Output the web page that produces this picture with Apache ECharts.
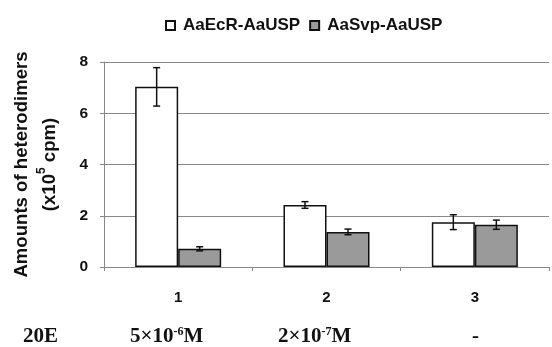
<!DOCTYPE html>
<html>
<head>
<meta charset="utf-8">
<script src="https://cdn.jsdelivr.net/npm/echarts@6/dist/echarts.min.js"></script>
<style>html,body{margin:0;padding:0;background:#fff}#c{width:552px;height:347px}</style>
</head>
<body>
<div id="c"></div>
<script>
const categories = ['1', '2', '3'];
const seriesNames = ['AaEcR-AaUSP', 'AaSvp-AaUSP'];
const ecrValues = [7.03, 2.42, 1.75];
const ecrErrors = [0.75, 0.13, 0.29];
const svpValues = [0.71, 1.37, 1.65];
const svpErrors = [0.08, 0.11, 0.18];
const yTicks = { min: 0, max: 8, interval: 2 };
const rowTitle = '20E';
const conditions = ['5×10{s|-6}M', '2×10{s|-7}M', '-'];

const BAR_FRAC = 0.29;
const sans = 'Liberation Sans';
const serif = 'Liberation Serif';

const errData = [];
ecrValues.forEach((v, i) => errData.push([i, v, ecrErrors[i], -1]));
svpValues.forEach((v, i) => errData.push([i, v, svpErrors[i], 1]));

const supSerif = { fontFamily: serif, fontWeight: 'bold', fontSize: 12, fill: '#111', verticalAlign: 'top', padding: [0, 0, 8, 0] };
const rowStyle = (text) => ({ text: text, fontFamily: serif, fontWeight: 'bold', fontSize: 21, fill: '#111', rich: { s: supSerif } });

const chart = echarts.init(document.getElementById('c'), null, { renderer: 'canvas' });
chart.setOption({
  animation: false,
  backgroundColor: '#fff',
  legend: {
    left: 160, top: 12,
    icon: 'rect', itemWidth: 9, itemHeight: 9, itemGap: 9,
    textStyle: { fontFamily: sans, fontWeight: 'bold', fontSize: 17, color: '#111', padding: [0, 0, 0, 3] },
    data: seriesNames
  },
  grid: { left: 97, right: 3, top: 62, bottom: 80 },
  xAxis: {
    type: 'category',
    data: categories,
    axisLine: { lineStyle: { color: '#888', width: 1 } },
    axisTick: { show: true, length: 4, lineStyle: { color: '#888' } },
    axisLabel: { margin: 23, fontFamily: sans, fontWeight: 'bold', fontSize: 15, color: '#111' }
  },
  yAxis: {
    type: 'value',
    min: yTicks.min, max: yTicks.max, interval: yTicks.interval,
    name: 'Amounts of heterodimers\n(x10{s|5} cpm)',
    nameLocation: 'middle',
    nameRotate: 90,
    nameGap: 40,
    nameTextStyle: {
      fontFamily: sans, fontWeight: 'bold', fontSize: 18.6, color: '#111', lineHeight: 28,
      rich: { s: { fontFamily: sans, fontWeight: 'bold', fontSize: 12, color: '#111', verticalAlign: 'top', padding: [0, 0, 8, 0] } }
    },
    axisLine: { show: true, lineStyle: { color: '#888', width: 1 } },
    axisTick: { show: true, length: 4, lineStyle: { color: '#888' } },
    splitLine: { lineStyle: { color: '#888', width: 1 } },
    axisLabel: { margin: 16, fontFamily: sans, fontWeight: 'bold', fontSize: 15.5, color: '#111' }
  },
  series: [
    {
      name: seriesNames[0], type: 'bar', data: ecrValues,
      barWidth: (BAR_FRAC * 100) + '%', barGap: '0%',
      itemStyle: { color: '#ffffff', borderColor: '#111', borderWidth: 1.5 }
    },
    {
      name: seriesNames[1], type: 'bar', data: svpValues,
      barWidth: (BAR_FRAC * 100) + '%', barGap: '0%',
      itemStyle: { color: '#9a9a9a', borderColor: '#111', borderWidth: 1.5 }
    },
    {
      type: 'custom', data: errData, z: 10, silent: true,
      renderItem: function (params, api) {
        const c = api.value(0), v = api.value(1), e = api.value(2), side = api.value(3);
        const bw = api.size([1, 0])[0] * BAR_FRAC;
        const x = api.coord([c, v])[0] + side * bw / 2;
        const yt = api.coord([c, v + e])[1];
        const yb = api.coord([c, v - e])[1];
        const cap = 3.5;
        const st = { stroke: '#111', lineWidth: 1.5 };
        return {
          type: 'group',
          children: [
            { type: 'line', shape: { x1: x, y1: yt, x2: x, y2: yb }, style: st },
            { type: 'line', shape: { x1: x - cap, y1: yt, x2: x + cap, y2: yt }, style: st },
            { type: 'line', shape: { x1: x - cap, y1: yb, x2: x + cap, y2: yb }, style: st }
          ]
        };
      }
    }
  ],
  graphic: [
    { type: 'text', left: 23, top: 326, style: rowStyle(rowTitle) },
    { type: 'text', left: 130, top: 326, style: rowStyle(conditions[0]) },
    { type: 'text', left: 278, top: 326, style: rowStyle(conditions[1]) },
    { type: 'text', left: 472, top: 326, style: rowStyle(conditions[2]) }
  ]
});
</script>
</body>
</html>
